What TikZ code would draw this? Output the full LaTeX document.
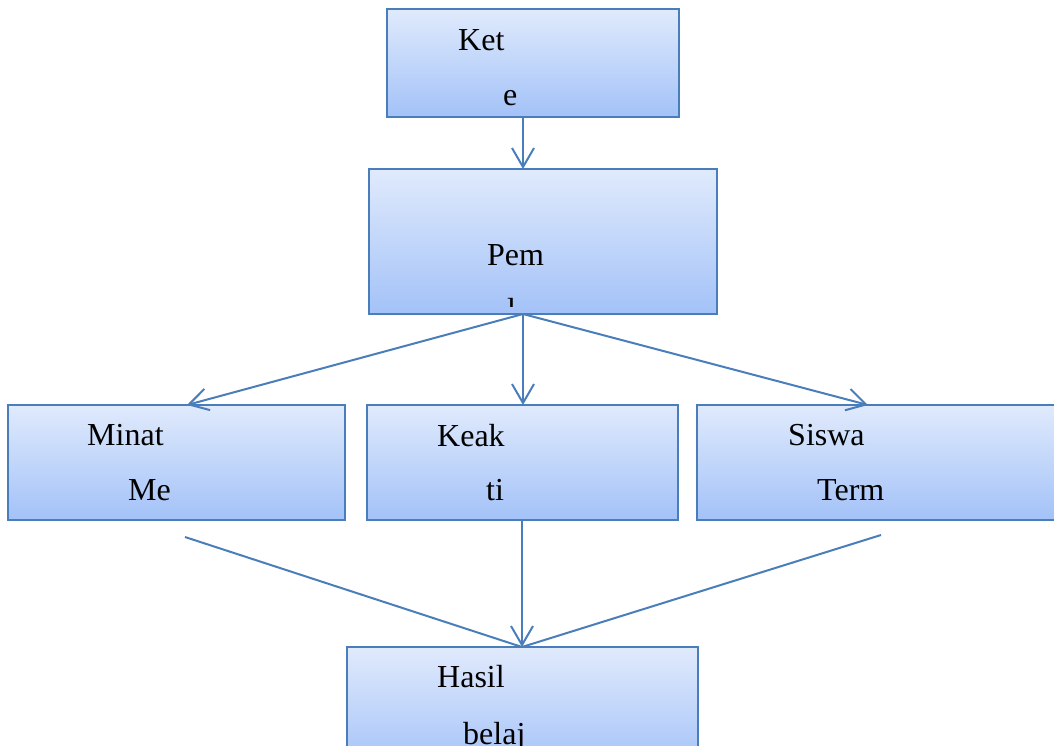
\documentclass[tikz,border=0pt]{standalone}
\usepackage{fontspec}
\setmainfont{Liberation Serif}
\usetikzlibrary{arrows.meta}
\definecolor{edge}{HTML}{4A7EBB}
\definecolor{boxtop}{HTML}{E0EAFC}
\definecolor{boxbot}{HTML}{A3C2F8}
\begin{document}
\begin{tikzpicture}[x=1pt,y=-1pt,
  box/.style={draw=edge, line width=2.2pt, top color=boxtop, bottom color=boxbot, rectangle, inner sep=0pt, outer sep=0pt},
  lbl/.style={anchor=base west, inner sep=0pt, font=\fontsize{32}{38}\selectfont},
  conn/.style={draw=edge, line width=2pt},
  arr/.style={conn, -{Straight Barb[length=19pt,width=22pt]}}]
\useasboundingbox (0,0) rectangle (1054,745);
\fill[white] (0,0) rectangle (1054,745);
% boxes
\node[box, minimum width=292pt, minimum height=108pt] (ket) at (533,63) {};
\node[box, minimum width=348pt, minimum height=145pt] (pem) at (543,241.5) {};
\node[box, minimum width=337pt, minimum height=115pt] (minat) at (176.5,462.5) {};
\node[box, minimum width=311pt, minimum height=115pt] (keak) at (522.5,462.5) {};
\node[box, minimum width=373pt, minimum height=115pt] (siswa) at (883.5,462.5) {};
\node[box, minimum width=351pt, minimum height=123pt] (hasil) at (522.5,708.5) {};
% texts
\node[lbl] (t1) at (458,50) {Ket};
\node[lbl] (t2) at (503,105) {e};
\node[lbl] (t3) at (487,265) {Pem};
\begin{scope}
\clip (369,169) rectangle (717,306);
\node[lbl] (t4) at (507,320) {l};
\end{scope}
\node[lbl] (t5) at (87,445) {Minat};
\node[lbl] (t6) at (128,500) {Me};
\node[lbl] (t7) at (437,446) {Keak};
\node[lbl] (t8) at (486,500) {ti};
\node[lbl] (t9) at (788,445) {Siswa};
\node[lbl] (t10) at (817,500) {Term};
\node[lbl] (t11) at (437,687) {Hasil};
\node[lbl] (t12) at (463,744) {belaj};
% connector points
\coordinate (ketout) at (523,117);
\coordinate (pemin) at (523,169);
\coordinate (pemout) at (523,314);
\coordinate (minatin) at (187,405);
\coordinate (keakin) at (523,405);
\coordinate (siswain) at (868,405);
\coordinate (keakout) at (522,521);
\coordinate (hasilin) at (522,647);
\coordinate (lstart) at (185,537);
\coordinate (rstart) at (881,535);
% connectors
\draw[arr] (ketout) -- (pemin);
\draw[arr] (pemout) -- (minatin);
\draw[arr] (pemout) -- (keakin);
\draw[arr] (pemout) -- (siswain);
\draw[arr] (keakout) -- (hasilin);
\draw[conn] (lstart) -- (hasilin);
\draw[conn] (rstart) -- (hasilin);
\end{tikzpicture}
\end{document}
